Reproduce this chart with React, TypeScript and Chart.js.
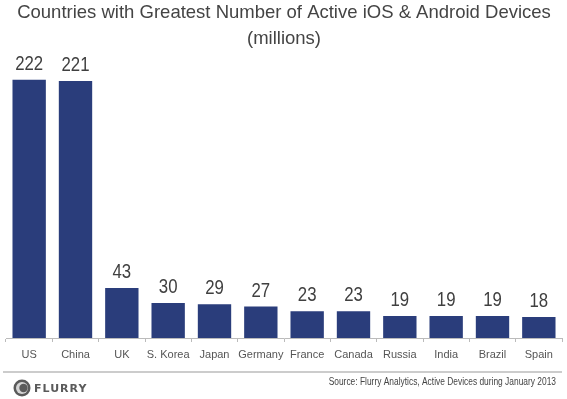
import { useEffect, useRef } from "react";
import { Chart, registerables } from "chart.js";

Chart.register(...registerables);

const categories = ["US", "China", "UK", "S. Korea", "Japan", "Germany", "France", "Canada", "Russia", "India", "Brazil", "Spain"];
const devices = [222, 221, 43, 30, 29, 27, 23, 23, 19, 19, 19, 18];
const titleLines = ["Countries with Greatest Number of Active iOS & Android Devices", "(millions)"];
const sourceText = "Source: Flurry Analytics, Active Devices during January 2013";
const brandText = "FLURRY";

const SANS = "'Liberation Sans', Arial, Helvetica, sans-serif";

const valueLabels = {
  id: "valueLabels",
  afterDatasetsDraw(chart: any) {
    const ctx = chart.ctx;
    const meta = chart.getDatasetMeta(0);
    const sx = 0.84;
    meta.data.forEach((bar: any, i: number) => {
      ctx.save();
      ctx.font = `20px ${SANS}`;
      ctx.fillStyle = "#404040";
      ctx.textAlign = "center";
      ctx.textBaseline = "alphabetic";
      ctx.translate(bar.x, bar.y - 10);
      ctx.scale(sx, 1);
      ctx.fillText(String(devices[i]), 0, 0);
      ctx.restore();
    });
  },
};

const footer = {
  id: "footer",
  afterDraw(chart: any) {
    const ctx = chart.ctx;
    ctx.save();
    ctx.strokeStyle = "#cccccc";
    ctx.lineWidth = 2;
    ctx.beginPath();
    ctx.moveTo(3, 372);
    ctx.lineTo(562, 372);
    ctx.stroke();
    // logo
    ctx.fillStyle = "#5a5a5a";
    ctx.beginPath();
    ctx.arc(22, 388, 8.5, 0, Math.PI * 2);
    ctx.fill();
    ctx.fillStyle = "#d5d5d5";
    ctx.beginPath();
    ctx.arc(22, 388, 6, 0, Math.PI * 2);
    ctx.fill();
    ctx.fillStyle = "#5a5a5a";
    ctx.beginPath();
    ctx.arc(23.5, 388, 4.2, 0, Math.PI * 2);
    ctx.fill();
    ctx.font = `bold 11px 'DejaVu Sans', sans-serif`;
    ctx.fillStyle = "#5a5a5a";
    ctx.textAlign = "left";
    ctx.textBaseline = "middle";
    (ctx as any).letterSpacing = "1px";
    ctx.fillText(brandText, 34, 389);
    (ctx as any).letterSpacing = "0px";
    ctx.restore();

    ctx.save();
    ctx.font = `10px ${SANS}`;
    ctx.fillStyle = "#444444";
    ctx.textAlign = "right";
    ctx.textBaseline = "middle";
    ctx.translate(556, 382);
    ctx.scale(0.84, 1);
    ctx.fillText(sourceText, 0, 0);
    ctx.restore();
  },
};

export default function App() {
  const ref = useRef<HTMLCanvasElement>(null);
  useEffect(() => {
    document.body.style.margin = "0";
    const chart = new Chart(ref.current!, {
      type: "bar",
      data: {
        labels: categories,
        datasets: [
          {
            data: devices,
            backgroundColor: "#2a3d7b",
            borderWidth: 0,
            barPercentage: 0.72,
            categoryPercentage: 1,
          },
        ],
      },
      options: {
        responsive: false,
        animation: false,
        layout: { padding: { left: 6, right: 5, top: 0, bottom: 31 } },
        plugins: {
          legend: { display: false },
          tooltip: { enabled: false },
          title: {
            display: true,
            text: titleLines,
            color: "#444444",
            font: { family: SANS, size: 18.5, weight: "normal", lineHeight: 1.4 },
            padding: { top: 0, bottom: 0 },
          },
        },
        scales: {
          x: {
            grid: { display: true, drawOnChartArea: false, drawTicks: true, tickLength: 4, color: "#bbbbbb", offset: true },
            border: { display: true, color: "#bbbbbb" },
            ticks: { font: { family: SANS, size: 11 }, color: "#555555", padding: 6, maxRotation: 0, autoSkip: false },
            afterFit: (s: any) => {
              s.height = 30;
            },
          },
          y: { display: false, min: 0, max: 246 },
        },
      },
      plugins: [valueLabels, footer],
    });
    return () => chart.destroy();
  }, []);
  return <canvas ref={ref} width={567} height={399} />;
}
